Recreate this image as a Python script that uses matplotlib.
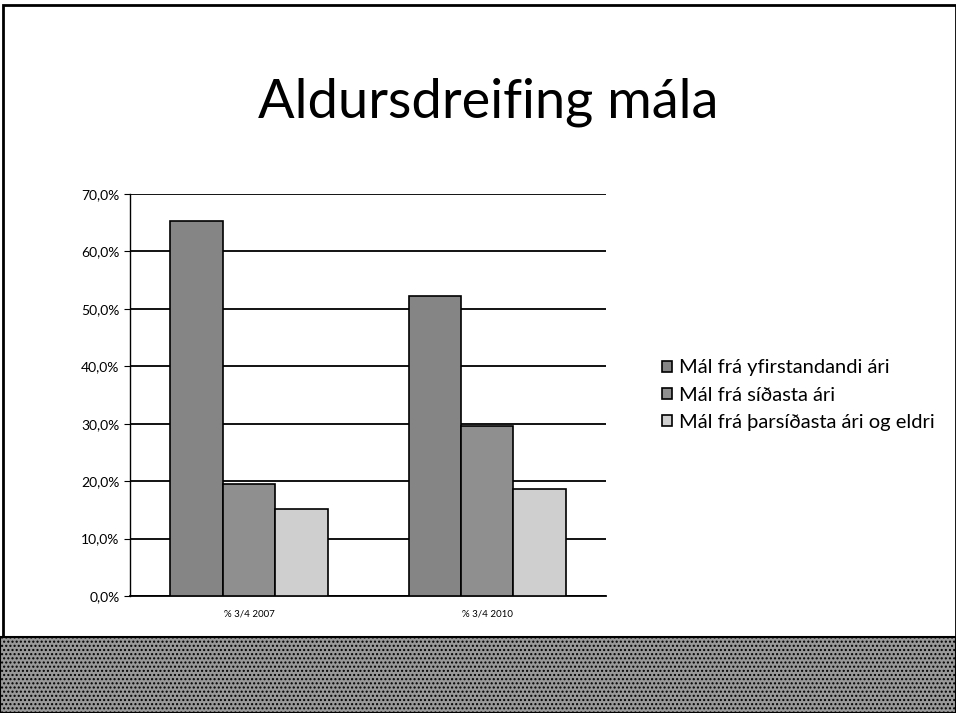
import matplotlib.pyplot as plt
from matplotlib.patches import Rectangle
from matplotlib.ticker import FuncFormatter

plt.rcParams['font.family'] = ['Lato', 'DejaVu Sans']

categories = ['% 3/4 2007', '% 3/4 2010']
series_names = ['Mál frá yfirstandandi ári', 'Mál frá síðasta ári',
                'Mál frá þarsíðasta ári og eldri']
current_year = [65.3, 52.3]
last_year = [19.5, 29.6]
older = [15.2, 18.6]
colors = ['#858585', '#8f8f8f', '#cfcfcf']

fig = plt.figure(figsize=(9.56, 7.13), dpi=100)
fig.patch.set_facecolor('white')

# slide frame and bottom band
fig.add_artist(Rectangle((0.003, 0.0), 0.997, 0.993, transform=fig.transFigure,
                         fill=False, edgecolor='black', linewidth=2))
fig.add_artist(Rectangle((0.0, 0.0), 1.0, 0.107, transform=fig.transFigure,
                         facecolor='#999999', edgecolor='black', linewidth=1.5,
                         hatch='....'))

fig.text(0.511, 0.857, 'Aldursdreifing mála', ha='center', va='center',
         fontsize=39)

ax = fig.add_axes([0.136, 0.164, 0.498, 0.564])
w = 0.22
x = range(len(categories))
for i, (vals, name) in enumerate(zip([current_year, last_year, older], series_names)):
    ax.bar([k + (i - 1) * w for k in x], vals, width=w, color=colors[i],
           edgecolor='black', linewidth=1.2, label=name, zorder=3)

ax.set_xlim(-0.5, 1.5)
ax.set_ylim(0, 70)
ax.set_yticks(range(0, 71, 10))
ax.yaxis.set_major_formatter(FuncFormatter(lambda v, p: f'{v:.1f}%'.replace('.', ',')))
ax.set_xticks(list(x))
ax.set_xticklabels(categories, fontsize=7)
ax.tick_params(axis='x', length=0, pad=10)
ax.tick_params(axis='y', labelsize=10, length=4, direction='out')
ax.grid(axis='y', color='black', linewidth=1.3, zorder=0)
for s in ['top', 'right']:
    ax.spines[s].set_visible(False)
ax.spines['left'].set_linewidth(1)
ax.spines['bottom'].set_linewidth(1.3)

ax.legend(loc='center left', bbox_to_anchor=(1.08, 0.5), frameon=False,
          fontsize=14.5, handlelength=0.5, handleheight=0.5, handletextpad=0.35,
          labelspacing=0.5)

fig.savefig('out.png', dpi=100)
